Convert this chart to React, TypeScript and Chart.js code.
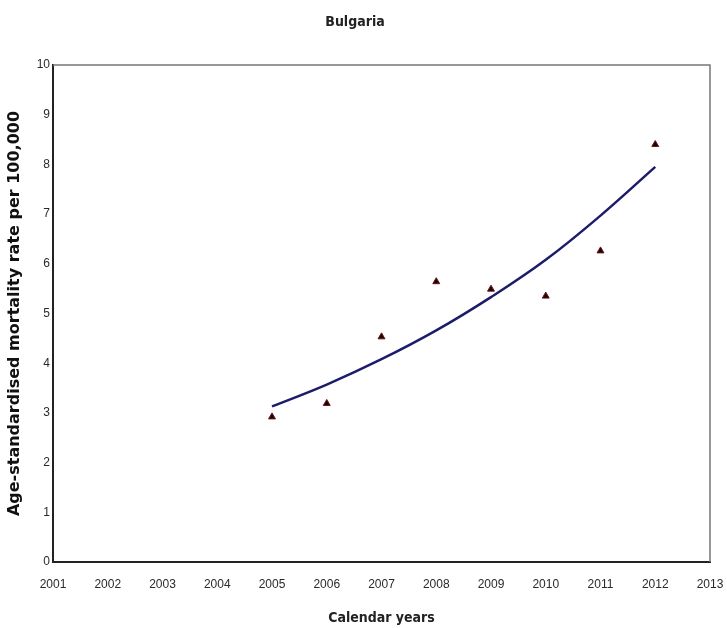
import React, { useEffect, useRef } from "react";
import { Chart, registerables } from "chart.js";
Chart.register(...registerables);

const years = [2005, 2006, 2007, 2008, 2009, 2010, 2011, 2012];
const observed = [2.92, 3.19, 4.53, 5.64, 5.49, 5.35, 6.26, 8.4];
const fitted = [3.13, 3.57, 4.08, 4.66, 5.33, 6.08, 6.97, 7.95];
const xTickMin = 2001;
const xTickMax = 2013;
const yTickMin = 0;
const yTickMax = 10;
const titleText = "Bulgaria";
const xTitle = "Calendar years";
const yTitle = "Age-standardised mortality rate per 100,000";

const framePlugin = {
  id: "frame",
  beforeDatasetsDraw(chart: any) {
    const { ctx, chartArea } = chart;
    ctx.save();
    ctx.strokeStyle = "#777";
    ctx.lineWidth = 1.5;
    ctx.beginPath();
    ctx.moveTo(chartArea.left, chartArea.top);
    ctx.lineTo(chartArea.right, chartArea.top);
    ctx.lineTo(chartArea.right, chartArea.bottom);
    ctx.stroke();
    ctx.restore();
  },
};

export default function App() {
  const ref = useRef<HTMLCanvasElement>(null);
  useEffect(() => {
    if (!ref.current) return;
    const chart = new Chart(ref.current, {
      type: "scatter",
      data: {
        datasets: [
          {
            type: "line",
            label: "fit",
            data: years.map((x, i) => ({ x, y: fitted[i] })),
            borderColor: "#1c1c6b",
            borderWidth: 2.5,
            pointRadius: 0,
            tension: 0.4,
            fill: false,
          },
          {
            label: "observed",
            data: years.map((x, i) => ({ x, y: observed[i] })),
            pointStyle: "triangle",
            pointRadius: 4,
            backgroundColor: "#1a0505",
            borderColor: "#6a1515",
            borderWidth: 1,
          },
        ],
      },
      options: {
        animation: false,
        responsive: true,
        maintainAspectRatio: false,
        layout: { padding: { left: 0, right: 17, top: 0, bottom: 0 } },
        plugins: {
          legend: { display: false },
          tooltip: { enabled: false },
          title: {
            display: true,
            text: titleText,
            color: "#222",
            font: { family: "DejaVu Sans Condensed", weight: "bold", size: 14 },
            padding: { top: 13.6, bottom: 34.6 },
          },
        },
        scales: {
          x: {
            type: "linear",
            min: xTickMin,
            max: xTickMax,
            afterFit: (s: any) => {
              s.paddingLeft = 0;
              s.paddingRight = 0;
              s.height = 66;
            },
            grid: { display: false, drawTicks: false },
            border: { display: true, color: "#222", width: 2 },
            ticks: {
              stepSize: 1,
              padding: 15,
              color: "#2a2a2a",
              font: { family: "Liberation Sans", size: 12 },
              callback: (v: any) => String(v),
            },
            title: {
              display: true,
              text: xTitle,
              color: "#222",
              font: { family: "DejaVu Sans Condensed", weight: "bold", size: 14 },
              padding: { top: 0, bottom: 1.6 },
            },
          },
          y: {
            min: yTickMin,
            max: yTickMax,
            afterFit: (s: any) => {
              s.paddingTop = 0;
              s.paddingBottom = 0;
              s.width = 53;
            },
            grid: { display: false, drawTicks: false },
            border: { display: true, color: "#222", width: 2 },
            ticks: {
              stepSize: 1,
              padding: 3,
              color: "#2a2a2a",
              font: { family: "Liberation Sans", size: 12 },
            },
            title: {
              display: true,
              text: yTitle,
              color: "#111",
              font: { family: "DejaVu Sans", weight: "bold", size: 16 },
              padding: { top: 5.4, bottom: 0 },
            },
          },
        },
      },
      plugins: [framePlugin],
    } as any);
    return () => chart.destroy();
  }, []);
  return (
    <div style={{ position: "absolute", left: 0, top: 0, width: 727, height: 628 }}>
      <canvas ref={ref} />
    </div>
  );
}
